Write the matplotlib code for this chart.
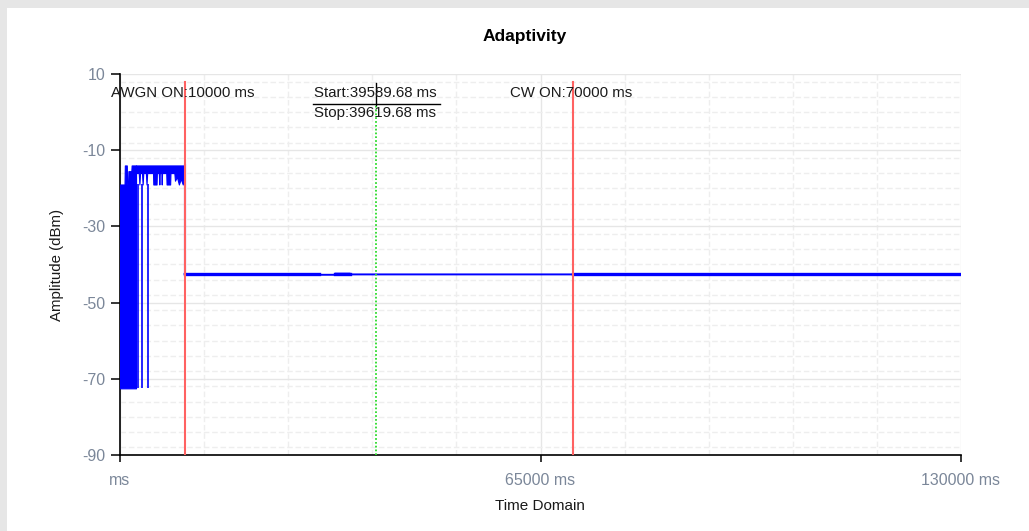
import numpy as np
import matplotlib
matplotlib.use("Agg")
import matplotlib.pyplot as plt
from matplotlib.patches import Rectangle
from matplotlib.ticker import MultipleLocator, FixedLocator

plt.rcParams["axes.unicode_minus"] = False

# Zone dense (0 - 2480 ms) : enveloppe haute, le bas reste à -72.5 dBm
dense_t = [0, 700, 750, 1050, 1100, 1250, 1300, 1750, 1800, 2100, 2150, 2480]
dense_hi = [-19, -19, -14, -14, -19, -19, -15.5, -15.5, -14, -14, -14, -14]
dense_lo = -72.5

# Pics isolés vers -72.5 dBm
spike_t = [2835, 3350, 4277]
spike_top = -19
spike_bottom = -72.5

# Bande bruitée (2500 - 10000 ms) : haut à -14 dBm, bas variable
band_t = [2480, 2900, 3000, 3100, 3400, 3500, 3600, 4000, 4100, 4200, 5100, 5150,
          5650, 5700, 6000, 6080, 6150, 6400, 6450, 6500, 7150, 7200, 7750, 7800,
          8400, 8500, 8800, 9100, 9400, 9700, 9800, 10000]
band_lo = [-16, -16, -19, -16, -16, -19, -16, -16, -19, -16, -16, -19,
           -19, -16, -16, -19, -16, -16, -19, -16, -16, -19, -19, -16,
           -16, -18, -17, -19, -17.5, -19, -18, -16]
band_hi = -14

# Niveau stable après AWGN ON
flat_t = [10000, 30770, 30780, 33240, 33250, 35560, 35570, 70000, 70010, 130000]
flat_v = [-42.5, -42.5, -42.7, -42.7, -42.4, -42.4, -42.6, -42.6, -42.5, -42.5]

# Segments où la trace est plus épaisse (bruit rapide)
busy_start = [10000, 33240, 70000]
busy_end = [30770, 35560, 130000]
busy_level = [-42.5, -42.4, -42.5]

awgn_on = 10000
cw_on = 70000
start_ms = 39589.68
stop_ms = 39619.68

x_ticks = [0, 65000, 130000]
x_ticklabels = ["ms", "65000 ms", "130000 ms"]
y_ticks = [-90, -70, -50, -30, -10, 10]

FONT = ["Liberation Sans", "DejaVu Sans"]
TICK_COLOR = "#7b8799"
BLUE = "#0000ff"

fig = plt.figure(figsize=(10.29, 5.31), dpi=100, facecolor="#e6e6e6")
fig.patches.append(Rectangle((7 / 1029, 0), 1, 1 - 8 / 531, transform=fig.transFigure,
                             facecolor="white", edgecolor="none", zorder=-5))

ax = fig.add_axes([120 / 1029, 1 - 455 / 531, 841 / 1029, 381 / 531])
ax.set_facecolor("white")
ax.set_xlim(0, 130000)
ax.set_ylim(-90, 10)

# ── Grille ───────────────────────────────────────────────
ax.xaxis.set_major_locator(FixedLocator(x_ticks))
ax.xaxis.set_minor_locator(MultipleLocator(13000))
ax.yaxis.set_major_locator(FixedLocator(y_ticks))
ax.yaxis.set_minor_locator(MultipleLocator(4))
ax.grid(True, which="major", color="#e6e6e6", linewidth=1.0, linestyle="-")
ax.grid(True, which="minor", color="#eeeeee", linewidth=1.0, linestyle=(0, (4, 2)))
ax.set_axisbelow(True)

for s in ["top", "right"]:
    ax.spines[s].set_visible(False)
for s in ["left", "bottom"]:
    ax.spines[s].set_color("black")
    ax.spines[s].set_linewidth(1.2)

ax.set_xticks(x_ticks)
ax.set_xticklabels(x_ticklabels)
ax.set_yticks(y_ticks)
ax.tick_params(axis="both", which="major", direction="out", width=1.1,
               colors="black", labelcolor=TICK_COLOR, labelsize=11.5)
ax.tick_params(axis="x", length=5, pad=8)
ax.tick_params(axis="y", length=6.5, pad=4)
ax.tick_params(which="minor", length=0)
for lab in ax.get_xticklabels() + ax.get_yticklabels():
    lab.set_family(FONT)

# ── Traces ───────────────────────────────────────────────
ax.fill_between(dense_t, dense_lo, dense_hi, color=BLUE, linewidth=0.8, zorder=3)
ax.fill_between(band_t, band_lo, band_hi, color=BLUE, linewidth=0.8, zorder=3)
ax.vlines(spike_t, spike_bottom, spike_top, color=BLUE, linewidth=1.2, zorder=3)
ax.plot([band_t[-1], flat_t[0]], [band_hi, flat_v[0]], color=BLUE,
        linewidth=1.5, zorder=3)
ax.plot(flat_t, flat_v, color=BLUE, linewidth=1.4, zorder=3)
for t0, t1, lv in zip(busy_start, busy_end, busy_level):
    ax.plot([t0, t1], [lv, lv], color=BLUE, linewidth=2.4, zorder=3)

# Marqueurs
ax.plot([awgn_on, awgn_on], [-90, 8], color="#ff6262", linewidth=1.5, zorder=4)
ax.plot([cw_on, cw_on], [-90, 8], color="#ff6262", linewidth=1.5, zorder=4)
ax.plot([start_ms, start_ms], [-90, 1.8], color="#33dd33", linewidth=1.1,
        linestyle=(0, (1, 1.5)), zorder=4)
ax.plot([stop_ms, stop_ms], [-90, 1.8], color="#33dd33", linewidth=1.1,
        linestyle=(0, (1, 1.5)), zorder=4)
ax.plot([start_ms, start_ms], [1.9, 7.6], color="black", linewidth=1.0, zorder=5)
ax.plot([29840, 49470], [2.1, 2.1], color="black", linewidth=1.0, zorder=5)

text_kw = dict(fontsize=10.8, family=FONT, color="#1a1a1a", va="center", ha="left", zorder=6)
ax.text(-1400, 5, "AWGN ON:10000 ms", **text_kw)
ax.text(29990, 5, "Start:39589.68 ms", **text_kw)
ax.text(29990, -0.25, "Stop:39619.68 ms", **text_kw)
ax.text(60290, 5, "CW ON:70000 ms", **text_kw)

fig.text(525 / 1029, 1 - 36 / 531, "Adaptivity", fontsize=12.5, fontweight="bold",
         family=FONT, ha="center", va="center")
fig.text(540 / 1029, 1 - 506 / 531, "Time Domain", fontsize=11, family=FONT,
         ha="center", va="center", color="#1a1a1a")
fig.text(57 / 1029, 1 - 265 / 531, "Amplitude (dBm)", fontsize=10.8, family=FONT,
         ha="center", va="center", rotation=90, color="#1a1a1a")

fig.savefig("out.png", dpi=100, facecolor=fig.get_facecolor())
